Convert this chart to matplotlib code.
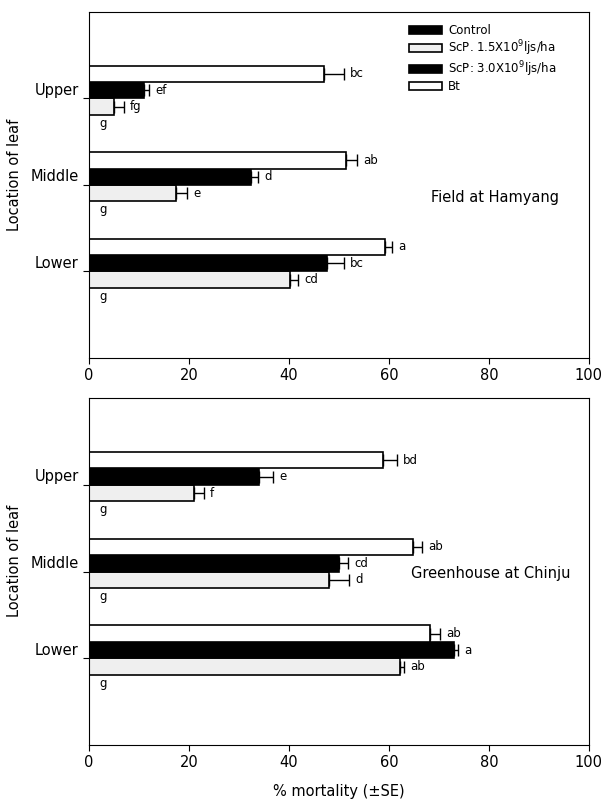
import numpy as np
import matplotlib.pyplot as plt
import matplotlib.transforms as mtransforms
from matplotlib.patches import Patch

locations = ['Upper', 'Middle', 'Lower']
treatments = ['Control', 'ScP. 1.5X10$^{9}$ljs/ha', 'ScP: 3.0X10$^{9}$ljs/ha', 'Bt']

# Field at Hamyang (mean % mortality, SE, letters) for Upper, Middle, Lower
field_control = [0, 0, 0]
field_scp15 = [5, 17.5, 40.3]
field_scp30 = [11, 32.5, 47.6]
field_bt = [47, 51.5, 59.3]
field_control_se = [0, 0, 0]
field_scp15_se = [2, 2.2, 1.5]
field_scp30_se = [1, 1.4, 3.4]
field_bt_se = [4, 2.2, 1.4]
field_letters = [['g', 'g', 'g'], ['fg', 'e', 'cd'], ['ef', 'd', 'bc'], ['bc', 'ab', 'a']]

# Greenhouse at Chinju
green_control = [0, 0, 0]
green_scp15 = [21, 48, 62.2]
green_scp30 = [34, 50, 73]
green_bt = [58.8, 64.8, 68.2]
green_control_se = [0, 0, 0]
green_scp15_se = [2, 4, 0.8]
green_scp30_se = [2.8, 1.8, 0.8]
green_bt_se = [2.8, 1.8, 2]
green_letters = [['g', 'g', 'g'], ['f', 'd', 'ab'], ['e', 'cd', 'a'], ['bd', 'ab', 'ab']]

faces = ['black', '#efefef', 'black', 'white']
h = 0.19
ypos = np.array([3, 2, 1])


def draw(ax, means, ses, letters, note, note_xy):
    for k in range(4):
        y = ypos + (k - 1.5) * h
        vals = np.array(means[k])
        se = np.array(ses[k])
        if k > 0:
            ax.barh(y, vals, height=h, color=faces[k], edgecolor='black', linewidth=1.2)
            ax.errorbar(vals, y, xerr=[np.zeros(3), se], fmt='none', ecolor='black',
                        elinewidth=1, capsize=4, capthick=1)
        for i in range(3):
            x = vals[i] + se[i] + 1.2 if k > 0 else 2
            ax.text(x, y[i], letters[k][i], va='center', ha='left', fontsize=8.5)
    ax.set_xlim(0, 100)
    ax.set_ylim(0, 4)
    ax.set_xticks([0, 20, 40, 60, 80, 100])
    ax.set_yticks(ypos)
    ax.set_yticklabels(locations)
    ax.tick_params(direction='out', length=4, labelsize=10.5)
    off = mtransforms.ScaledTranslation(0, 7 / 72, ax.figure.dpi_scale_trans)
    for lab in ax.get_yticklabels():
        lab.set_transform(lab.get_transform() + off)
    ax.set_ylabel('Location of leaf', fontsize=10.5)
    ax.yaxis.set_label_coords(-0.135, 0.53)
    ax.text(note_xy[0], note_xy[1], note, fontsize=10.5)


fig = plt.figure(figsize=(6.03, 8.05), dpi=100)
ax1 = fig.add_axes([0.1476, 0.5553, 0.829, 0.4298])
ax2 = fig.add_axes([0.1476, 0.0745, 0.829, 0.431])

draw(ax1, [field_control, field_scp15, field_scp30, field_bt],
     [field_control_se, field_scp15_se, field_scp30_se, field_bt_se],
     field_letters, 'Field at Hamyang', (68.5, 1.8))
draw(ax2, [green_control, green_scp15, green_scp30, green_bt],
     [green_control_se, green_scp15_se, green_scp30_se, green_bt_se],
     green_letters, 'Greenhouse at Chinju', (64.5, 1.92))

ax2.set_xlabel('% mortality (±SE)', fontsize=10.5, labelpad=10)

handles = [Patch(facecolor=faces[k], edgecolor='black', linewidth=1.2) for k in range(4)]
ax1.legend(handles, treatments, loc='upper left', bbox_to_anchor=(0.64, 0.965),
           frameon=False, fontsize=8.5, labelspacing=0.1, handlelength=2.8,
           handleheight=0.7, handletextpad=0.5, borderpad=0, borderaxespad=0)

fig.savefig('out.png', dpi=100)
